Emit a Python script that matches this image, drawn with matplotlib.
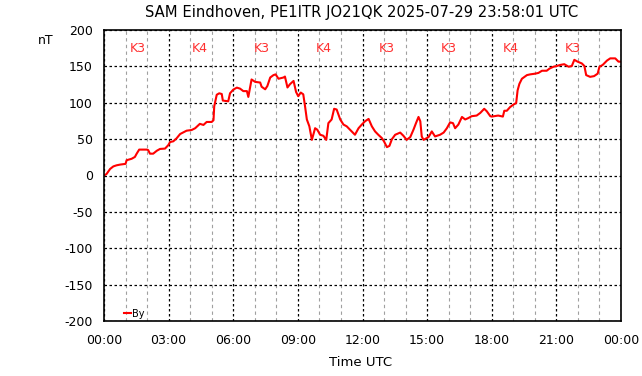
import pandas as pd
import matplotlib
matplotlib.use("Agg")
import matplotlib.pyplot as plt
import matplotlib.dates as mdates

plt.rcParams["axes.unicode_minus"] = False

# By component (nT)
times = [
    "00:00", "00:07", "00:17", "00:26", "00:35", "00:45", "01:00", "01:03",
    "01:17", "01:26", "01:31", "01:38", "01:59", "02:03", "02:08", "02:17",
    "02:27", "02:36", "02:50", "02:59", "03:04", "03:13", "03:22", "03:32",
    "03:50", "04:04", "04:14", "04:27", "04:37", "04:46", "05:00", "05:05",
    "05:07", "05:14", "05:21", "05:28", "05:31", "05:46", "05:51", "06:00",
    "06:10", "06:19", "06:28", "06:38", "06:42", "06:47", "06:51", "07:01",
    "07:15", "07:19", "07:29", "07:35", "07:43", "07:52", "07:58", "08:06",
    "08:20", "08:24", "08:31", "08:38", "08:48", "08:55", "09:01", "09:08",
    "09:15", "09:20", "09:25", "09:32", "09:39", "09:48", "09:54", "10:02",
    "10:11", "10:19", "10:25", "10:34", "10:41", "10:48", "10:58", "11:07",
    "11:16", "11:25", "11:39", "11:49", "11:58", "12:07", "12:17", "12:26",
    "12:35", "12:44", "12:54", "13:00", "13:08", "13:15", "13:22", "13:31",
    "13:45", "13:54", "14:03", "14:13", "14:22", "14:29", "14:36", "14:41",
    "14:45", "14:50", "15:04", "15:13", "15:22", "15:36", "15:46", "15:55",
    "16:04", "16:12", "16:18", "16:27", "16:37", "16:46", "16:55", "17:04",
    "17:18", "17:28", "17:39", "17:46", "17:56", "18:00", "18:18", "18:31",
    "18:35", "18:42", "18:51", "19:01", "19:08", "19:12", "19:17", "19:24",
    "19:38", "19:47", "20:01", "20:10", "20:20", "20:33", "20:41", "20:52",
    "21:01", "21:11", "21:22", "21:34", "21:43", "21:50", "21:59", "22:11",
    "22:18", "22:23", "22:34", "22:45", "22:55", "23:00", "23:09", "23:21",
    "23:30", "23:44", "23:53", "23:58",
]
by_nt = [
    0, 2, 9, 12.5, 14, 15, 16, 21,
    23, 25.5, 30, 35.6, 35.6, 35, 30, 30,
    34, 36.5, 37, 41.7, 46, 47, 51, 57,
    61.6, 62.5, 65, 71, 69.5, 73.6, 73.6, 76,
    95, 111, 113, 112, 103, 102, 113, 118,
    120.8, 119.4, 116, 116, 108, 121, 132, 128.7,
    127.8, 122, 118.5, 123, 134.7, 138, 139, 133,
    134.7, 136, 121, 125.5, 130, 114.8, 109, 114,
    111.6, 95, 77, 67.6, 49, 65, 63, 56,
    54.6, 49, 72, 77, 91.7, 90.7, 77, 70,
    67.6, 63, 56, 65, 70, 74.5, 77.8, 67.6,
    60.6, 56, 51.4, 46.8, 39, 40.7, 50, 56,
    59, 54.6, 49, 52.8, 63, 72, 80.5, 74.5,
    53.7, 49, 52.8, 60.6, 53.7, 56, 59, 65,
    73, 72, 65, 70, 80.5, 77, 79, 81.5,
    82.4, 86, 91.7, 88.4, 81.5, 81, 82.4, 81,
    89, 89, 94, 97.7, 99.5, 117, 126, 133,
    138, 139, 140, 141, 144, 144, 147, 149.5,
    150.5, 152, 153, 149.5, 150.5, 159, 156.5, 154,
    150.5, 138, 135.6, 136.6, 140, 149.5, 152, 158,
    161, 161, 156.5, 156.5,
]

k_index = [3, 4, 3, 4, 3, 3, 4, 3]
title = "SAM Eindhoven, PE1ITR JO21QK 2025-07-29 23:58:01 UTC"

t = pd.to_datetime(["2025-07-29 " + s for s in times])

fig = plt.figure(figsize=(6.42, 3.76), dpi=100)
ax = fig.add_axes([104 / 642, 55 / 376, 517 / 642, 291 / 376])

ax.plot(t, by_nt, color="#ff0000", lw=1.5, label="By")

ax.set_xlim(pd.Timestamp("2025-07-29 00:00"), pd.Timestamp("2025-07-30 00:00"))
ax.set_ylim(-200, 200)
ax.set_yticks(range(-200, 201, 50))
ax.xaxis.set_major_locator(mdates.HourLocator(byhour=range(0, 24, 3)))
ax.xaxis.set_minor_locator(mdates.HourLocator())
ax.xaxis.set_major_formatter(mdates.DateFormatter("%H:%M"))

ax.grid(which="minor", axis="x", color="#a0a0a0", ls=(0, (3, 3)), lw=0.8)
ax.grid(which="major", axis="both", color="black", ls=(0, (2, 2)), lw=0.9)
ax.set_axisbelow(True)
ax.tick_params(which="both", length=0, labelsize=9, pad=8)
ax.tick_params(axis="x", pad=9)
for sp in ax.spines.values():
    sp.set_linewidth(1.2)

for i, k in enumerate(k_index):
    ax.text(0.066 + 0.12 * i, 0.935, "K%d" % k, transform=ax.transAxes,
            color="#ff3030", fontsize=9, ha="center", va="center")

fig.text(361.5 / 642, 1 - 12 / 376, title, ha="center", va="center", fontsize=10.6)
fig.text(46 / 642, 1 - 40 / 376, "nT", ha="center", va="center", fontsize=9)
fig.text(361 / 642, 1 - 362 / 376, "Time UTC", ha="center", va="center", fontsize=9.5)

ax.legend(loc="lower left", bbox_to_anchor=(0.025, -0.015), frameon=False,
          fontsize=7, handlelength=0.7, handletextpad=0.1, borderpad=0.2)

fig.savefig("out.png", dpi=100)
